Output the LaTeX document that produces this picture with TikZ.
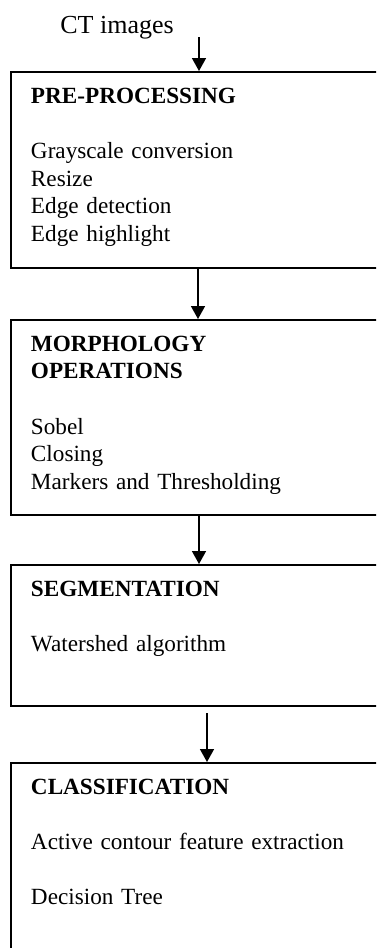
\documentclass[tikz,border=0pt]{standalone}
\usepackage{fontspec}
\setmainfont{Liberation Serif}
\usetikzlibrary{arrows.meta,calc}

\begin{document}
\begin{tikzpicture}[
  x=0.5pt, y=-0.5pt,
  stage/.style={draw=black, line width=1pt, anchor=north west, align=left,
    text width=170pt, inner xsep=10pt, inner ysep=7.5pt, text height=8pt,
    font=\fontsize{11.6}{13.85}\selectfont},
  arr/.style={-{Triangle[length=6.5pt,width=7pt]}, line width=0.75pt, black}
]
\useasboundingbox (0,0) rectangle (376,948);
\clip (0,0) rectangle (376,948);

% input label
\node[anchor=base west, inner sep=0pt, font=\fontsize{13}{15}\selectfont] (ct) at (60,33) {CT images};
\coordinate (in) at (199,37);

% processing stages
\node[stage, text depth=75pt] (pre) at (10,71)
  {\textbf{PRE-PROCESSING}\\[13.85pt]
   Grayscale conversion\\ Resize\\ Edge detection\\ Edge highlight};
\node[stage, text depth=74.5pt] (morph) at (10,319)
  {\textbf{MORPHOLOGY}\\ \textbf{OPERATIONS}\\[13.85pt]
   Sobel\\ Closing\\ Markers and Thresholding};
\node[stage, text depth=47.5pt] (seg) at (10,564)
  {\textbf{SEGMENTATION}\\[13.85pt]
   Watershed algorithm};
\node[stage, text depth=80pt] (cls) at (10,762)
  {\textbf{CLASSIFICATION}\\[13.85pt]
   Active contour feature extraction\\[13.85pt]
   Decision Tree};

\draw[arr] (in) -- ($(pre.north west)+(189,0)$);
\draw[arr] ($(pre.south west)+(188,0)$) -- ($(morph.north west)+(188,0)$);
\draw[arr] ($(morph.south west)+(189,0)$) -- ($(seg.north west)+(189,0)$);
\draw[arr] ($(seg.south west)+(197,6)$) -- ($(cls.north west)+(197,0)$);
\end{tikzpicture}
\end{document}
